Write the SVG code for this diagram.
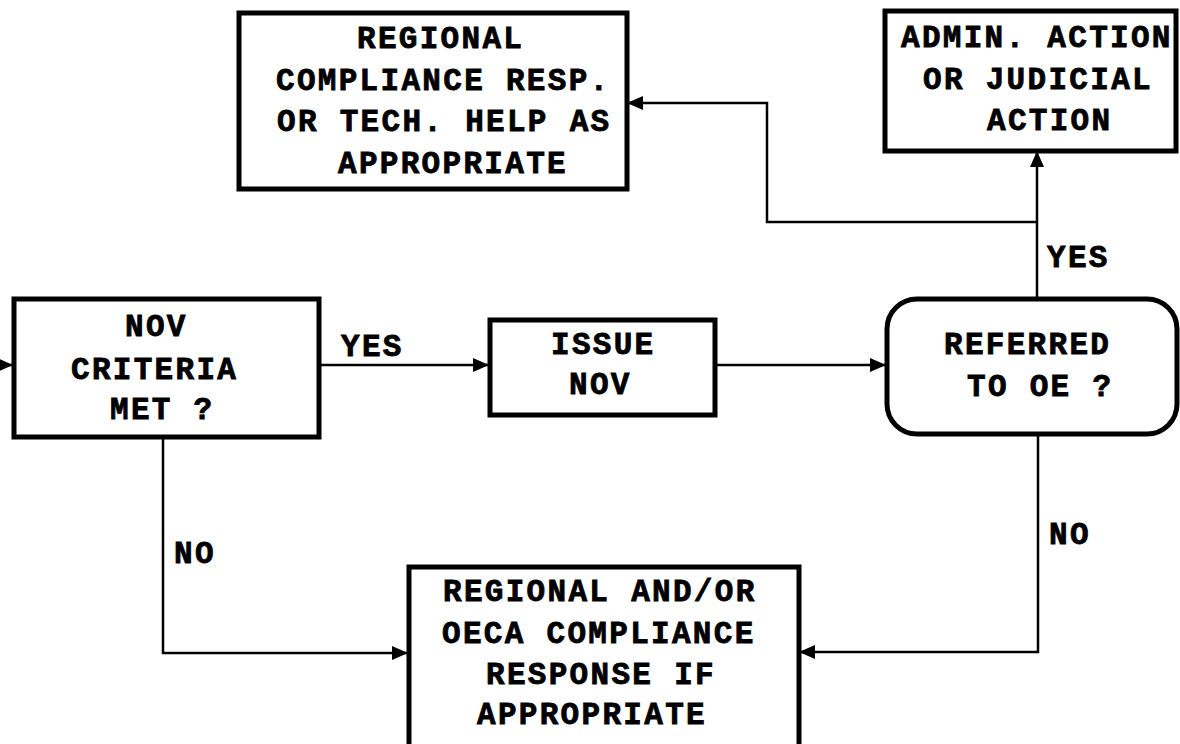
<svg xmlns="http://www.w3.org/2000/svg" width="1180" height="744" viewBox="0 0 1180 744">
<style>
.box{fill:#fff;stroke:#000;stroke-width:5}
.t{font-family:"Liberation Mono","Courier New",monospace;font-weight:bold;font-size:31px;letter-spacing:2.3px;fill:#000;stroke:#000;stroke-width:0.8}
.c{fill:none;stroke:#000;stroke-width:2.5}
</style>
<defs>
<marker id="ah" markerWidth="16" markerHeight="14" refX="15" refY="7" orient="auto" markerUnits="userSpaceOnUse">
<path d="M0,0 L16,7 L0,14 Z" fill="#000"/>
</marker>
</defs>
<rect width="1180" height="744" fill="#fff"/>
<g id="connectors">
<path class="c" d="M0,365 H12" marker-end="url(#ah)"/>
<path class="c" d="M320,365 H488" marker-end="url(#ah)"/>
<path class="c" d="M717,365 H885" marker-end="url(#ah)"/>
<path class="c" d="M1037,297 V152" marker-end="url(#ah)"/>
<path class="c" d="M1037,222 H767 V103 H628" marker-end="url(#ah)"/>
<path class="c" d="M1038,435 V652 H800" marker-end="url(#ah)"/>
<path class="c" d="M163,438 V653 H407" marker-end="url(#ah)"/>
</g>
<g id="label-yes-1"><text class="t" x="341" y="356">YES</text></g>
<g id="label-yes-2"><text class="t" x="1047" y="267">YES</text></g>
<g id="label-no-1"><text class="t" x="174" y="563">NO</text></g>
<g id="label-no-2"><text class="t" x="1049" y="544">NO</text></g>
<g id="node-regional-resp">
<rect class="box" x="239" y="13" width="388" height="176"/>
<text class="t" x="357" y="48">REGIONAL</text>
<text class="t" x="276" y="90">COMPLIANCE RESP.</text>
<text class="t" x="277" y="131">OR TECH. HELP AS</text>
<text class="t" x="338" y="173">APPROPRIATE</text>
</g>
<g id="node-admin">
<rect class="box" x="885" y="11" width="291" height="140"/>
<text class="t" x="901" y="47">ADMIN. ACTION</text>
<text class="t" x="923" y="89">OR JUDICIAL</text>
<text class="t" x="987" y="130">ACTION</text>
</g>
<g id="node-nov-criteria">
<rect class="box" x="14" y="299" width="305" height="138"/>
<text class="t" x="125" y="336">NOV</text>
<text class="t" x="71" y="379">CRITERIA</text>
<text class="t" x="110" y="419">MET ?</text>
</g>
<g id="node-issue">
<rect class="box" x="490" y="320" width="225" height="95"/>
<text class="t" x="551" y="354">ISSUE</text>
<text class="t" x="569" y="394">NOV</text>
</g>
<g id="node-referred">
<rect class="box" x="887" y="299" width="290" height="135" rx="30" ry="30"/>
<text class="t" x="944" y="354">REFERRED</text>
<text class="t" x="967" y="396">TO OE ?</text>
</g>
<g id="node-regional-oeca">
<rect class="box" x="409" y="567" width="390" height="190"/>
<text class="t" x="443" y="601">REGIONAL AND/OR</text>
<text class="t" x="442" y="643">OECA COMPLIANCE</text>
<text class="t" x="486" y="684">RESPONSE IF</text>
<text class="t" x="477" y="724">APPROPRIATE</text>
</g>
</svg>
